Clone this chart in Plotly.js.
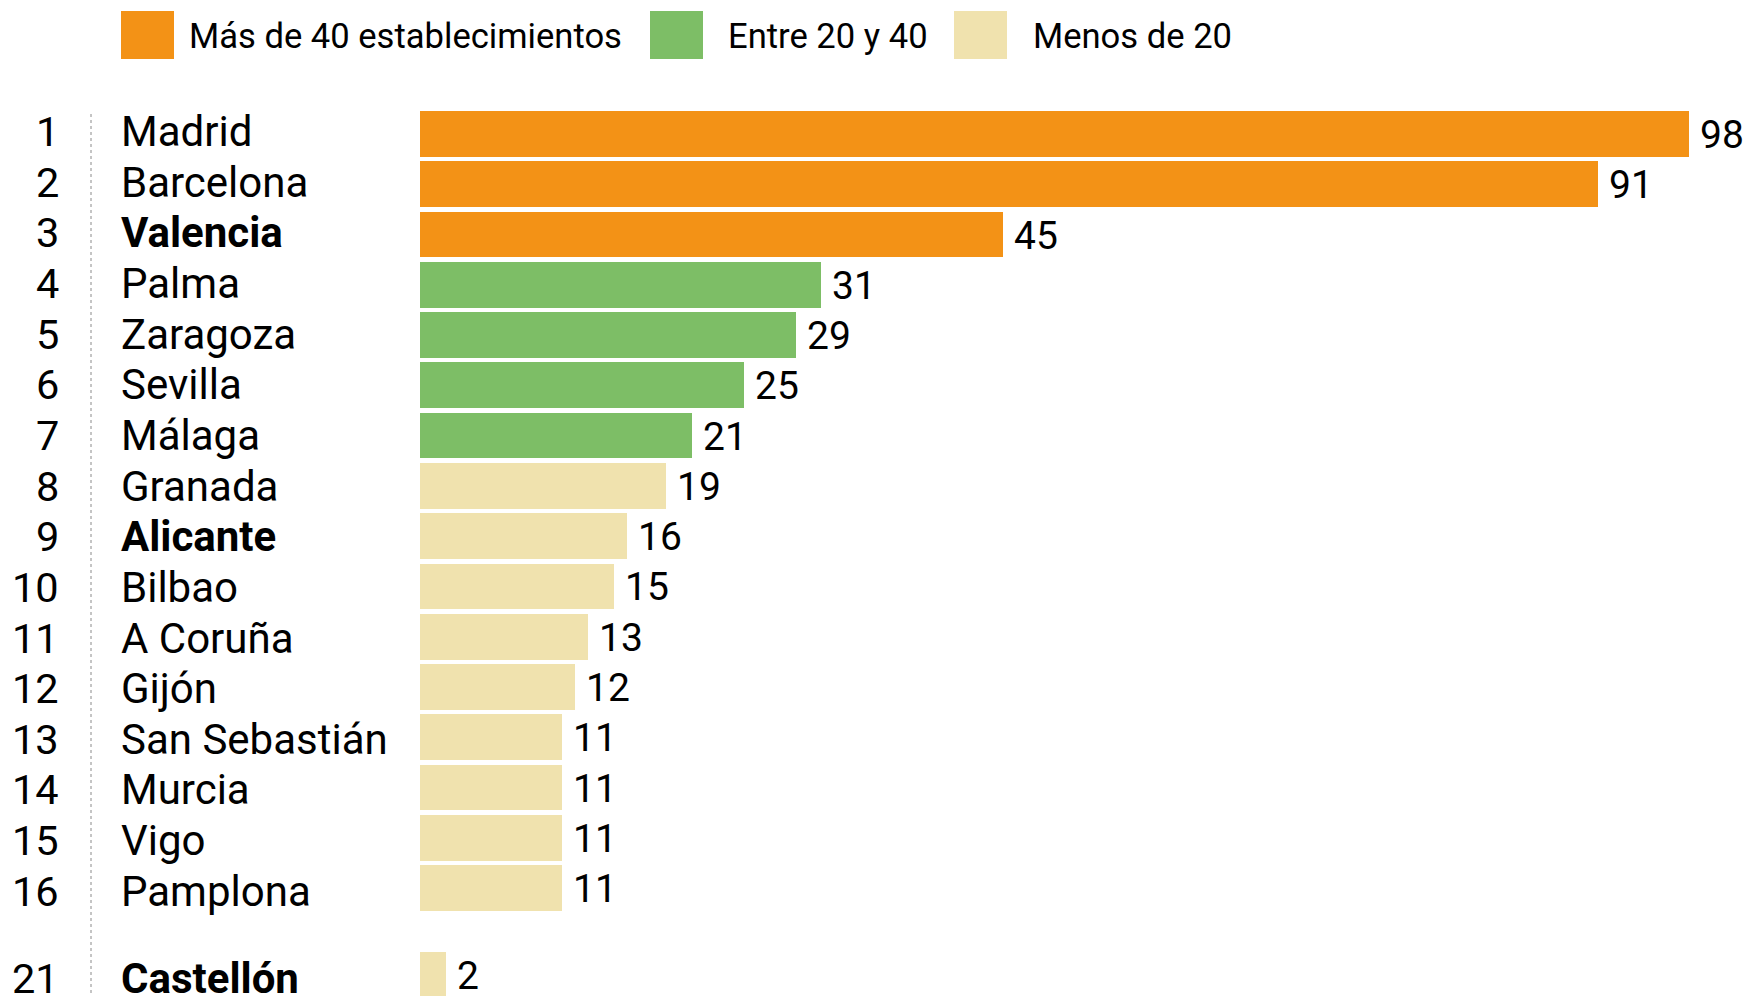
<!DOCTYPE html>
<html>
<head>
<meta charset="utf-8">
<script src="https://cdn.plot.ly/plotly-3.0.1.min.js"></script>
<style>
  html, body { margin: 0; padding: 0; background: #ffffff; }
  #chart { width: 1749px; height: 996px; }
</style>
</head>
<body>
<div id="chart"></div>
<script>
// ---- Data ----
const ranks = [1, 2, 3, 4, 5, 6, 7, 8, 9, 10, 11, 12, 13, 14, 15, 16, 21];
const cities = ['Madrid', 'Barcelona', 'Valencia', 'Palma', 'Zaragoza', 'Sevilla', 'Málaga',
  'Granada', 'Alicante', 'Bilbao', 'A Coruña', 'Gijón', 'San Sebastián', 'Murcia', 'Vigo',
  'Pamplona', 'Castellón'];
const establishments = [98, 91, 45, 31, 29, 25, 21, 19, 16, 15, 13, 12, 11, 11, 11, 11, 2];
const highlighted = ['Valencia', 'Alicante', 'Castellón'];
const legendLabels = ['Más de 40 establecimientos', 'Entre 20 y 40', 'Menos de 20'];

// ---- Styling / layout ----
const W = 1749, H = 996;
const marginL = 420;
const COLORS = ['#F39216', '#7DBE66', '#F0E2AE'];
const FONT = 'Roboto, "Open Sans", sans-serif';
function colorFor(v) { return v > 40 ? COLORS[0] : (v >= 20 ? COLORS[1] : COLORS[2]); }

// row positions: consecutive ranks are adjacent rows; a jump in rank leaves a gap
const gapRows = 1.72;
const rowPos = [];
ranks.forEach((r, i) => {
  if (i === 0) rowPos.push(0);
  else rowPos.push(rowPos[i - 1] + (r - ranks[i - 1] === 1 ? 1 : gapRows));
});

const pitch = 50.27, firstCenter = 134;
const textPitch = 50.64, textFirst = 131.6;
const yTop = -firstCenter / pitch;
const yBottom = (H - firstCenter) / pitch;
const pxPerUnit = (1689 - marginL) / 98;
const xMax = (W - marginL) / pxPerUnit;

const plotW = W - marginL;
const px = p => (p - marginL) / plotW;   // pixel x -> paper x
const py = p => 1 - p / H;               // pixel y -> paper y
const textShift = pos => (firstCenter + pos * pitch) - (textFirst + pos * textPitch);

const trace = {
  type: 'bar',
  orientation: 'h',
  x: establishments,
  y: rowPos,
  width: 0.91,
  marker: { color: establishments.map(colorFor), line: { width: 0 } },
  hoverinfo: 'skip',
  showlegend: false
};

const annotations = [];
ranks.forEach((r, i) => {
  const ys = textShift(rowPos[i]);
  annotations.push({
    xref: 'paper', yref: 'y', x: px(61), y: rowPos[i], yshift: ys,
    xanchor: 'right', yanchor: 'middle', showarrow: false,
    text: String(r), font: { family: FONT, size: 41.5, color: '#000' }
  });
  const bold = highlighted.includes(cities[i]);
  annotations.push({
    xref: 'paper', yref: 'y', x: px(119), y: rowPos[i], yshift: ys,
    xanchor: 'left', yanchor: 'middle', showarrow: false,
    text: bold ? '<b>' + cities[i] + '</b>' : cities[i],
    font: { family: FONT, size: 42, color: '#000' }
  });
  annotations.push({
    xref: 'x', yref: 'y', x: establishments[i], y: rowPos[i], xshift: 9, yshift: -1,
    xanchor: 'left', yanchor: 'middle', showarrow: false,
    text: String(establishments[i]), font: { family: FONT, size: 39, color: '#000' }
  });
});

const shapes = [{
  type: 'line', xref: 'paper', yref: 'paper',
  x0: px(91), x1: px(91), y0: py(114), y1: py(H),
  line: { color: '#8a8a8a', width: 1, dash: 'dot' }
}];

const legendSquares = [121, 650, 954];
const legendTexts = [187, 726, 1031];
legendLabels.forEach((lab, i) => {
  shapes.push({
    type: 'rect', xref: 'paper', yref: 'paper',
    x0: px(legendSquares[i]), x1: px(legendSquares[i] + 53),
    y0: py(59), y1: py(11),
    fillcolor: COLORS[i], line: { width: 0 }
  });
  annotations.push({
    xref: 'paper', yref: 'paper', x: px(legendTexts[i]), y: py(36),
    xanchor: 'left', yanchor: 'middle', showarrow: false,
    text: lab, font: { family: FONT, size: 34.6, color: '#000' }
  });
});

const layout = {
  width: W, height: H,
  margin: { l: marginL, r: 0, t: 0, b: 0, pad: 0 },
  paper_bgcolor: '#ffffff', plot_bgcolor: '#ffffff',
  xaxis: { range: [0, xMax], visible: false, fixedrange: true },
  yaxis: { range: [yBottom, yTop], visible: false, fixedrange: true },
  bargap: 0,
  showlegend: false,
  annotations: annotations,
  shapes: shapes
};

Plotly.newPlot('chart', [trace], layout, { displayModeBar: false, staticPlot: true });
</script>
</body>
</html>
